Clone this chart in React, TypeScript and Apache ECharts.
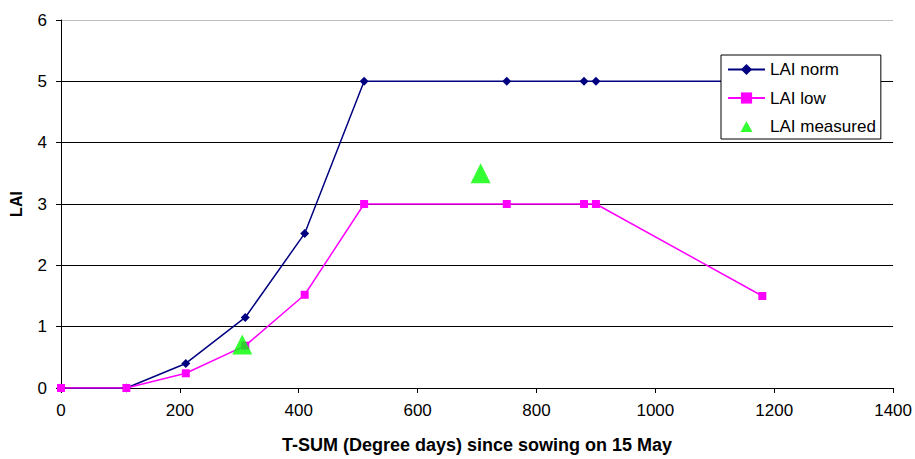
import React, { useEffect, useRef } from "react";
import * as echarts from "echarts";

const tsum = [0, 110, 210, 310, 410, 510, 750, 880, 900, 1180];
const laiNorm = [0, 0, 0.4, 1.15, 2.52, 5, 5, 5, 5, 5];
const laiLow = [0, 0, 0.24, 0.69, 1.52, 3, 3, 3, 3, 1.5];
const measuredX = [305, 706];
const measuredY = [0.71, 3.5];

export default function App() {
  const ref = useRef<HTMLDivElement>(null);
  useEffect(() => {
    if (!ref.current) return;
    const chart = echarts.init(ref.current, null, { renderer: "svg" });
    const font = "'Liberation Sans', Arial, sans-serif";
    chart.setOption({
      animation: false,
      textStyle: { fontFamily: font },
      grid: { left: 61, right: 20, top: 20, bottom: 67 },
      legend: {
        orient: "vertical",
        left: 721,
        top: 55,
        backgroundColor: "#fff",
        borderColor: "#000",
        borderWidth: 1,
        borderRadius: 0,
        padding: [6, 5, 4, 6],
        itemWidth: 37,
        itemHeight: 14,
        itemGap: 11.5,
        textStyle: { fontSize: 17, color: "#000", fontFamily: font },
        data: [
          "LAI norm",
          "LAI low",
          {
            name: "LAI measured",
            icon: "path://M0,0L0,0M37,14L37,14M18.5,1.5L24.5,12.5L12.5,12.5Z",
          },
        ],
      },
      xAxis: {
        type: "value",
        min: 0,
        max: 1400,
        interval: 200,
        name: "T-SUM (Degree days) since sowing on 15 May",
        nameLocation: "middle",
        nameGap: 48,
        nameTextStyle: { fontSize: 18, fontWeight: "bold", color: "#000", fontFamily: font },
        axisLine: { lineStyle: { color: "#000", width: 1 } },
        axisTick: { show: true, length: 5, lineStyle: { color: "#000" } },
        axisLabel: {
          fontSize: 17,
          color: "#000",
          margin: 14,
          fontFamily: font,
          formatter: (v: number) => String(v),
        },
        splitLine: { show: false },
      },
      yAxis: {
        type: "value",
        min: 0,
        max: 6,
        interval: 1,
        name: "LAI",
        nameLocation: "middle",
        nameGap: 37,
        nameTextStyle: { fontSize: 16, fontWeight: "bold", color: "#000", fontFamily: font },
        axisLine: { show: true, lineStyle: { color: "#000", width: 1 } },
        axisTick: { show: true, length: 5, lineStyle: { color: "#000" } },
        axisLabel: { fontSize: 17, color: "#000", margin: 14, fontFamily: font },
        splitLine: {
          show: true,
          lineStyle: { color: ["#000", "#000", "#000", "#000", "#000", "#000", "#c0c0c0"], width: 1 },
        },
      },
      series: [
        {
          name: "LAI norm",
          type: "line",
          data: tsum.map((x, i) => [x, laiNorm[i]]),
          symbol: "diamond",
          symbolSize: 9,
          itemStyle: { color: "#000080" },
          lineStyle: { color: "#000080", width: 1.5 },
          z: 3,
        },
        {
          name: "LAI low",
          type: "line",
          data: tsum.map((x, i) => [x, laiLow[i]]),
          symbol: "rect",
          symbolSize: 8,
          itemStyle: { color: "#ff00ff" },
          lineStyle: { color: "#ff00ff", width: 1.5 },
          z: 3,
        },
        {
          name: "LAI measured",
          type: "scatter",
          data: measuredX.map((x, i) => [x, measuredY[i]]),
          symbol: "triangle",
          symbolSize: 20,
          itemStyle: { color: "#00ff00" },
          z: 4,
        },
      ],
    });
    return () => chart.dispose();
  }, []);
  return <div ref={ref} style={{ width: 915, height: 459, position: "absolute", left: 0, top: 0 }} />;
}
